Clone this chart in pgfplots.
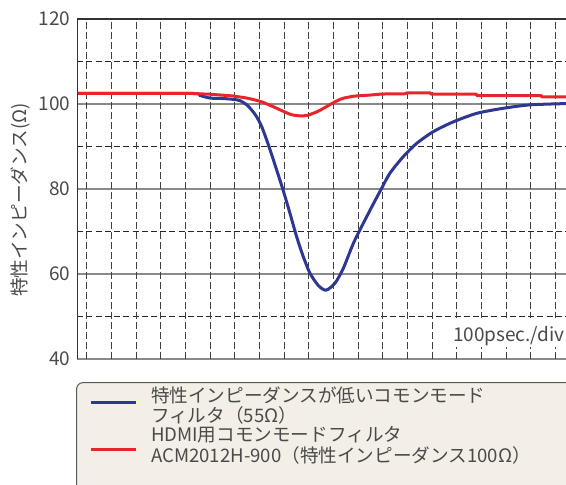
\documentclass[border=0pt]{standalone}
\usepackage{pgfplots}
\pgfplotsset{compat=1.18}
\usepackage{fontspec}
\setmainfont{Noto Sans CJK JP}
\definecolor{cblue}{HTML}{2E3892}
\definecolor{cred}{HTML}{E8252B}
\definecolor{legfill}{HTML}{F3EFE6}
\definecolor{txt}{HTML}{4A4A4A}
\definecolor{gridmaj}{HTML}{8A8A8A}
\begin{document}
\begin{tikzpicture}
\path[use as bounding box] (-38.65pt,-62.5pt) rectangle (244.35pt,179.5pt);
\clip (-38.65pt,-62.5pt) rectangle (244.35pt,179.5pt);
\begin{axis}[at={(0pt,0pt)}, anchor=south west, scale only axis,
  width=244.35pt, height=170pt,
  xmin=-0.38, xmax=19.43, ymin=40, ymax=120,
  axis line style={draw=none},
  xtick=\empty,
  ytick={40,60,...,120}, minor ytick={50,70,90,110},
  ymajorgrids, yminorgrids,
  major tick length=0pt, minor tick length=0pt,
  major grid style={solid, draw=gridmaj, line width=0.9pt},
  minor grid style={draw=black!85, line width=0.45pt, dash pattern=on 3pt off 1.6pt},
  yticklabel style={font=\fontsize{9.5}{11}\selectfont, text=txt},
  /pgf/number format/assume math mode=true,
  clip=true]
\pgfplotsinvokeforeach{0,1,...,19}{
  \draw[draw=black!75, line width=0.45pt, dash pattern=on 3.3pt off 1.7pt] (axis cs:#1,40) -- (axis cs:#1,120);
}
\addplot[cblue, line width=1.5pt, line join=round, smooth, tension=0.45] coordinates {
(-0.38,102.5) (4.19,102.5) (4.59,102.0) (5.00,101.4) (5.5,101.3) (5.93,101.1) (6.21,100.8)
(6.49,99.8) (6.70,98.5) (6.89,97.0) (7.10,94.6) (7.39,90.0) (7.70,84.5)
(7.97,79.6) (8.24,74.3) (8.51,68.8) (8.78,64.1) (9.05,60.2) (9.39,57.3)
(9.70,56.2) (10.06,57.8) (10.40,61.3) (10.81,67.2) (11.21,71.9) (11.62,76.5)
(11.96,80.2) (12.29,83.7) (12.83,87.6) (13.38,90.75) (14.05,93.5) (14.86,95.8)
(15.81,97.8) (16.89,99.0) (17.97,99.8) (19.43,100.1)
};
\addplot[cred, line width=1.5pt, line join=round] coordinates {
(-0.38,102.5) (4.19,102.5) (5.0,102.3) (5.93,101.9) (6.5,101.4) (6.93,100.8)
(7.15,100.4) (7.35,99.9) (7.55,99.4) (7.70,99.0) (7.85,98.6) (8.0,98.2) (8.12,97.9) (8.24,97.6) (8.37,97.4) (8.5,97.3) (8.64,97.2) (8.77,97.2) (8.9,97.3) (9.0,97.4)
(9.17,97.8) (9.31,98.1) (9.45,98.5) (9.6,99.0) (9.73,99.4) (9.87,99.9) (10.0,100.3) (10.13,100.7) (10.27,101.1) (10.43,101.4) (10.6,101.6)
(10.77,101.8) (10.94,101.9) (11.48,102.1) (11.96,102.35) (12.9,102.4) (12.98,102.6) (13.94,102.6)
(13.95,102.35) (15.80,102.35) (15.81,102.0) (18.43,102.0) (18.44,101.7) (19.43,101.7)
};
\end{axis}
\draw[draw=black!80, line width=0.6pt] (0pt,0pt) -- (0pt,170pt) -- (244.35pt,170pt);
\fill[white] (183.5pt,6.15pt) rectangle (246pt,20.35pt);
\node[rotate=90, font=\fontsize{9.3}{11}\selectfont, text=txt] at (-28.65pt,79.5pt) {特性インピーダンス(Ω)};
\node[anchor=east, inner sep=0pt, font=\fontsize{9.5}{11}\selectfont, text=txt] at (243.85pt,11.6pt) {100psec./div};
\draw[draw=black!65, fill=legfill, rounded corners=3pt, line width=0.5pt] (-0.3pt,-11.85pt) rectangle (260pt,-80pt);
\draw[cblue, line width=1.3pt] (6.7pt,-21.85pt) -- (29.35pt,-21.85pt);
\draw[cred, line width=1.3pt] (6.7pt,-45.15pt) -- (29.35pt,-45.15pt);
\begin{scope}[every node/.style={anchor=west, inner sep=0pt, font=\fontsize{9.3}{11}\selectfont, text=txt}]
\node at (36.7pt,-18pt) {特性インピーダンスが低いコモンモード};
\node at (36.7pt,-28pt) {フィルタ（55Ω）};
\node at (36.7pt,-38pt) {HDMI用コモンモードフィルタ};
\node at (36.7pt,-48pt) {ACM2012H-900（特性インピーダンス100Ω）};
\end{scope}
\end{tikzpicture}
\end{document}
